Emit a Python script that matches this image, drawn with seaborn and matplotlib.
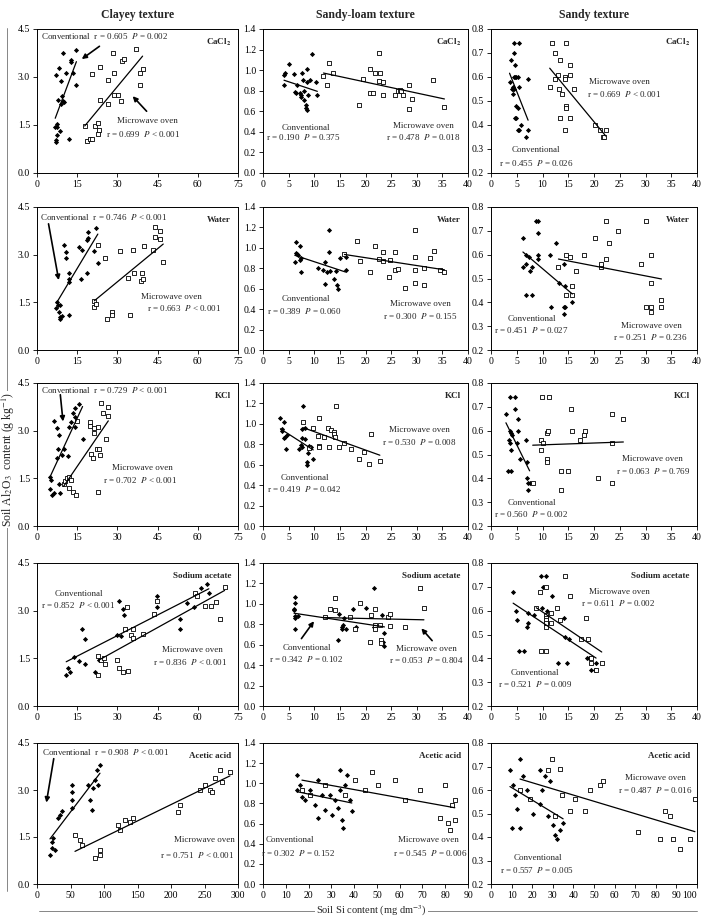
# coding: utf-8
"""
Soil Al2O3 vs Si content, 5 extractants x 3 textures
"""

import seaborn as sns
import matplotlib.pyplot as plt
import matplotlib.ticker as tck
from matplotlib.lines import Line2D

sns.set_theme(style='ticks')
plt.rcParams['font.family'] = ['Liberation Serif', 'DejaVu Serif']
plt.rcParams['mathtext.fontset'] = 'stix'

textures = ['Clayey texture', 'Sandy-loam texture', 'Sandy texture']
solutions = ['CaCl$_\\mathbf{2}$', 'Water', 'KCl', 'Sodium acetate', 'Acetic acid']

# ---- CaCl2 ----
clay_cacl2_cx = [7.1, 7.1, 6.8, 7.4, 7.6, 7.4, 8.4, 7.8, 7.2, 8.3, 9.0, 9.7, 9.4, 9.7, 9.9, 9.0,
                 10.8, 12.6, 12.6, 13.6, 14.5, 14.7, 12.1]
clay_cacl2_cy = [0.96, 1.04, 1.43, 1.43, 1.54, 1.20, 1.30, 2.29, 3.07, 3.28, 2.88, 3.75, 2.42, 2.26,
                 2.23, 2.16, 3.13, 3.54, 3.47, 3.13, 3.85, 2.76, 1.07]
clay_cacl2_mx = [17.8, 18.7, 19.8, 20.4, 20.4, 21.6, 22.6, 23.3, 22.7, 23.5, 23.5, 26.6, 26.6, 28.4,
                 28.7, 28.6, 30.3, 31.3, 31.6, 32.6, 36.8, 38.4, 38.4, 39.4]
clay_cacl2_my = [1.46, 0.99, 1.06, 1.06, 3.10, 1.46, 1.56, 1.35, 1.22, 3.31, 2.29, 2.90, 2.16, 3.75,
                 3.13, 2.43, 2.43, 2.24, 3.51, 3.56, 3.88, 3.13, 2.76, 3.25]

sl_cacl2_cx = [4.1, 4.2, 4.1, 5.1, 6.0, 6.2, 6.4, 6.7, 7.3, 7.5, 7.7, 7.5, 8.0, 8.0, 7.8, 8.3, 8.3,
               8.5, 8.5, 8.6, 8.8, 9.2, 9.6, 10.3, 10.6]
sl_cacl2_cy = [0.95, 0.97, 0.86, 1.06, 0.96, 0.79, 0.78, 0.86, 0.78, 0.76, 0.97, 0.74, 0.71, 0.80,
               0.90, 0.63, 0.66, 0.61, 1.01, 0.88, 0.76, 0.90, 1.16, 0.88, 0.76]
sl_cacl2_mx = [11.8, 12.5, 12.8, 13.7, 18.7, 19.5, 20.8, 20.8, 21.5, 21.8, 22.6, 22.6, 22.8, 23.5,
               23.4, 25.7, 26.3, 26.7, 26.9, 27.4, 28.5, 28.5, 29.1, 33.2, 35.4]
sl_cacl2_my = [0.94, 0.86, 1.07, 0.97, 0.66, 0.91, 1.01, 0.78, 0.78, 0.97, 1.17, 0.89, 0.97, 0.88,
               0.76, 0.76, 0.80, 0.81, 0.80, 0.76, 0.86, 0.62, 0.72, 0.90, 0.64]

sand_cacl2_cx = [4.4, 5.4, 4.4, 3.9, 4.6, 3.6, 4.4, 4.6, 4.9, 5.2, 4.2, 4.0, 4.3, 4.5, 4.3, 4.8, 5.2,
                 4.6, 4.8, 5.2, 5.5, 5.8, 5.5, 7.2, 6.8, 7.2]
sand_cacl2_cy = [0.74, 0.74, 0.70, 0.67, 0.65, 0.58, 0.60, 0.60, 0.60, 0.60, 0.56, 0.55, 0.55, 0.55,
                 0.53, 0.48, 0.47, 0.43, 0.43, 0.38, 0.38, 0.40, 0.56, 0.59, 0.35, 0.38]
sand_cacl2_mx = [11.8, 14.6, 11.4, 12.5, 13.4, 12.5, 13.0, 13.3, 13.7, 14.4, 14.4, 15.3, 15.4, 13.4,
                 15.4, 14.5, 14.5, 14.4, 16.2, 20.2, 21.2, 21.7, 22.0, 22.3]
sand_cacl2_my = [0.74, 0.74, 0.56, 0.70, 0.67, 0.59, 0.61, 0.55, 0.53, 0.60, 0.59, 0.61, 0.65, 0.43,
                 0.43, 0.48, 0.47, 0.38, 0.55, 0.40, 0.38, 0.35, 0.35, 0.38]

# ---- Water ----
clay_water_cx = [7.4, 7.7, 8.4, 7.2, 8.2, 8.4, 9.3, 8.7, 9.9, 10.8, 10.7, 11.8, 11.8, 12.1, 12.1,
                 15.5, 16.4, 16.9, 18.8, 18.9, 18.9, 18.8, 21.3, 22.1, 22.7]
clay_water_cy = [1.52, 1.41, 1.41, 1.31, 1.20, 0.99, 1.07, 1.05, 3.29, 3.09, 2.88, 2.41, 2.25, 2.14,
                 1.10, 3.24, 2.22, 3.14, 3.45, 3.52, 3.71, 2.41, 3.12, 3.84, 2.74]
clay_water_mx = [21.4, 21.4, 22.1, 22.7, 25.5, 26.0, 27.9, 27.9, 31.0, 34.7, 34.1, 35.9, 36.2, 39.0,
                 38.7, 39.4, 40.0, 43.1, 44.0, 44.0, 45.8, 45.8, 47.1]
clay_water_my = [1.55, 1.36, 1.44, 3.29, 2.91, 0.99, 1.20, 1.10, 3.11, 1.10, 2.28, 3.14, 2.43, 2.43,
                 2.18, 2.25, 3.26, 3.14, 3.87, 3.56, 3.73, 3.48, 2.77]

sl_water_cx = [6.2, 6.5, 6.4, 6.6, 6.8, 7.3, 7.3, 7.5, 7.5, 10.7, 11.7, 12.0, 12.0, 12.4, 12.9,
               12.9, 13.0, 13.8, 14.3, 14.5, 14.6, 15.0, 16.1, 16.1]
sl_water_cy = [0.86, 1.06, 0.95, 0.94, 0.93, 1.02, 0.88, 0.90, 0.76, 0.80, 0.78, 0.86, 0.65, 0.76,
               1.17, 0.96, 0.77, 0.70, 0.77, 0.64, 0.60, 0.90, 0.91, 0.78]
sl_water_mx = [15.9, 18.3, 18.9, 20.8, 21.8, 22.6, 23.5, 23.4, 24.5, 24.8, 25.7, 25.7, 26.3, 27.8,
               29.6, 29.6, 29.6, 29.6, 31.5, 31.5, 32.5, 33.4, 34.5, 35.4]
sl_water_my = [0.94, 1.07, 0.87, 0.76, 1.02, 0.89, 0.96, 0.87, 0.71, 0.88, 0.96, 0.78, 0.79, 0.61,
               1.17, 0.91, 0.78, 0.66, 0.64, 0.80, 0.90, 0.97, 0.78, 0.76]

sand_water_cx = [6.2, 6.3, 6.8, 6.8, 6.7, 7.4, 7.6, 7.9, 7.9, 8.8, 9.1, 9.2, 9.2, 9.2, 11.4, 11.6,
                 12.6, 13.2, 14.1, 14.1, 14.3, 14.1, 14.3, 15.8]
sand_water_cy = [0.67, 0.55, 0.60, 0.56, 0.43, 0.59, 0.53, 0.55, 0.43, 0.74, 0.74, 0.69, 0.60, 0.58,
                 0.60, 0.38, 0.65, 0.48, 0.56, 0.38, 0.38, 0.35, 0.47, 0.40]
sand_water_mx = [13.1, 14.6, 15.4, 14.6, 15.7, 15.7, 16.5, 18.1, 20.2, 21.3, 21.3, 22.3, 22.9, 22.3,
                 24.7, 29.1, 30.1, 30.1, 31.0, 31.0, 31.0, 31.0, 33.1, 33.1]
sand_water_my = [0.55, 0.60, 0.59, 0.43, 0.43, 0.47, 0.53, 0.60, 0.67, 0.55, 0.56, 0.74, 0.65, 0.58,
                 0.70, 0.56, 0.74, 0.38, 0.38, 0.36, 0.60, 0.48, 0.41, 0.38]

# ---- KCl ----
clay_kcl_cx = [5.0, 5.2, 4.7, 5.6, 6.3, 6.2, 7.4, 8.1, 7.7, 7.4, 8.1, 8.7, 9.3, 9.9, 11.8, 11.5,
               12.6, 13.4, 14.0, 14.0, 14.3, 15.5, 17.0]
clay_kcl_cy = [1.53, 1.46, 1.18, 0.97, 1.04, 3.29, 3.08, 2.87, 2.41, 2.13, 1.32, 1.04, 2.25, 2.41,
               3.11, 2.21, 3.26, 3.55, 3.71, 3.13, 3.42, 3.85, 2.73]
clay_kcl_mx = [9.9, 10.5, 11.2, 11.8, 11.8, 12.6, 13.4, 14.6, 14.9, 19.8, 19.8, 20.1, 20.8, 21.1,
               21.1, 22.3, 22.7, 23.2, 22.7, 23.8, 23.5, 24.8, 25.8, 26.6, 26.6]
clay_kcl_my = [1.32, 1.42, 1.50, 1.55, 1.21, 1.44, 1.07, 0.97, 3.29, 3.26, 3.15, 2.27, 2.15, 3.08,
               2.92, 2.42, 3.13, 2.42, 1.07, 3.87, 2.23, 3.57, 2.74, 3.76, 3.47]

sl_kcl_cx = [3.4, 3.8, 3.8, 4.1, 4.0, 4.3, 4.6, 4.4, 7.0, 7.4, 7.6, 7.7, 7.7, 7.9, 8.1, 8.1, 8.5,
             8.5, 8.7, 9.0, 9.3, 9.8]
sl_kcl_cy = [1.06, 0.95, 0.93, 1.02, 0.86, 0.87, 0.89, 0.75, 0.75, 0.79, 0.77, 0.86, 0.95, 1.17,
             0.96, 0.85, 0.63, 0.60, 0.71, 0.78, 0.77, 0.66]
sl_kcl_mx = [7.9, 9.0, 9.8, 10.9, 10.8, 10.9, 10.9, 11.9, 12.7, 12.9, 13.2, 13.9, 13.9, 14.0, 14.2,
             14.8, 15.8, 17.1, 18.7, 19.8, 20.6, 21.1, 22.8]
sl_kcl_my = [1.02, 0.76, 0.96, 1.06, 0.88, 0.78, 0.77, 0.87, 0.96, 0.77, 0.94, 0.92, 0.90, 0.87,
             1.17, 0.77, 0.81, 0.75, 0.66, 0.72, 0.61, 0.90, 0.64]

sand_kcl_cx = [2.9, 3.7, 4.7, 4.7, 3.4, 3.6, 3.7, 3.9, 4.1, 3.9, 3.3, 3.9, 5.2, 5.2, 5.0, 5.7, 6.8,
               7.0, 7.0, 7.2, 7.5, 7.2]
sand_kcl_cy = [0.67, 0.74, 0.74, 0.69, 0.56, 0.55, 0.60, 0.59, 0.58, 0.52, 0.43, 0.43, 0.65, 0.60,
               0.55, 0.48, 0.56, 0.47, 0.40, 0.38, 0.38, 0.35]
sand_kcl_mx = [8.1, 9.9, 11.2, 9.7, 10.0, 9.7, 10.8, 11.0, 10.8, 10.8, 13.5, 13.5, 15.0, 15.5, 15.7,
               17.3, 18.1, 18.3, 20.8, 23.4, 23.4, 23.5, 25.7]
sand_kcl_my = [0.38, 0.74, 0.74, 0.56, 0.55, 0.52, 0.59, 0.60, 0.48, 0.47, 0.43, 0.35, 0.43, 0.69,
               0.60, 0.56, 0.58, 0.60, 0.40, 0.67, 0.55, 0.38, 0.65]

# ---- Sodium acetate ----
clay_na_cx = [10.9, 11.5, 12.4, 13.9, 15.6, 16.7, 18.0, 18.0, 21.7, 23.2, 29.7, 30.6, 31.2, 32.2,
              32.6, 44.6, 44.6, 53.3, 53.3, 55.8, 58.5, 61.3, 63.4, 64.1]
clay_na_cy = [0.97, 1.21, 1.06, 1.55, 1.42, 2.41, 2.12, 1.32, 1.08, 1.44, 2.23, 3.30, 2.21, 3.06,
              2.86, 3.45, 3.10, 2.41, 2.73, 3.24, 3.10, 3.71, 3.85, 3.56]
clay_na_mx = [22.9, 22.9, 23.9, 25.0, 25.5, 29.7, 30.7, 32.0, 33.8, 33.5, 32.8, 34.9, 35.7, 36.0,
              39.7, 43.6, 44.9, 58.9, 59.7, 62.8, 65.1, 66.9, 68.2, 70.0]
clay_na_my = [1.57, 0.97, 1.44, 1.50, 1.32, 1.46, 1.21, 1.08, 1.10, 3.10, 2.41, 2.23, 2.41, 2.14,
              2.26, 2.89, 3.31, 3.56, 3.45, 3.14, 3.14, 3.27, 2.75, 3.74]

sl_na_cx = [6.2, 6.2, 6.05, 6.05, 6.2, 6.2, 6.8, 6.2, 14.6, 14.8, 15.4, 15.5, 15.7, 16.1, 15.8,
            17.6, 18.1, 20.0, 21.7, 21.7, 23.3, 23.7, 23.7, 23.4]
sl_na_cy = [1.07, 1.01, 0.95, 0.94, 0.86, 0.88, 0.88, 0.75, 0.65, 0.90, 0.77, 0.75, 0.79, 0.75,
            0.86, 0.95, 0.77, 0.96, 1.16, 0.77, 0.89, 0.71, 0.59, 0.63]
sl_na_mx = [12.0, 13.0, 14.0, 14.0, 16.9, 18.0, 18.9, 20.9, 21.0, 21.8, 21.8, 21.8, 22.8, 23.0,
            23.0, 24.4, 24.7, 24.7, 27.7, 30.6, 31.4]
sl_na_my = [0.87, 0.95, 1.06, 0.94, 0.87, 0.75, 1.01, 0.63, 0.89, 0.95, 0.79, 0.75, 0.79, 0.65,
            0.62, 0.87, 0.90, 0.78, 0.77, 1.16, 0.96]

sand_na_cx = [4.3, 4.8, 5.0, 5.4, 6.5, 7.2, 7.2, 7.0, 8.3, 9.7, 10.7, 10.1, 9.9, 10.8, 10.8, 11.8,
              13.1, 14.2, 14.4, 14.8, 15.2, 18.6, 19.1, 19.4, 20.4, 20.2]
sand_na_cy = [0.68, 0.60, 0.56, 0.43, 0.43, 0.59, 0.55, 0.53, 0.58, 0.745, 0.745, 0.70, 0.61, 0.60,
              0.55, 0.66, 0.38, 0.57, 0.49, 0.38, 0.48, 0.40, 0.40, 0.35, 0.38, 0.35]
sand_na_mx = [9.5, 8.8, 9.7, 10.7, 10.7, 10.7, 10.7, 10.7, 10.7, 10.7, 11.6, 11.6, 12.8, 13.4, 15.4,
              14.4, 18.5, 18.9, 17.4, 19.4, 19.4, 20.4, 21.5]
sand_na_my = [0.68, 0.61, 0.43, 0.43, 0.70, 0.58, 0.57, 0.56, 0.55, 0.53, 0.59, 0.55, 0.61, 0.56,
              0.66, 0.745, 0.57, 0.48, 0.48, 0.40, 0.38, 0.35, 0.38]

# ---- Acetic acid ----
clay_ac_cx = [19.4, 22.4, 22.4, 23.9, 26.9, 31.3, 34.3, 37.3, 52, 52, 52, 52, 79, 83.6, 86.6, 89.6,
              94, 91, 76, 82]
clay_ac_cy = [0.93, 1.15, 1.34, 1.47, 1.09, 2.11, 2.20, 2.33, 2.43, 2.68, 2.94, 3.16, 2.68, 3.07,
              3.32, 3.64, 3.80, 3.16, 3.16, 2.36]
clay_ac_mx = [56.7, 64, 67, 94, 94, 86.6, 121, 131, 139, 143, 124, 210, 213, 258, 261, 276, 288,
              273, 251, 266, 243]
clay_ac_my = [1.57, 1.40, 1.25, 1.09, 0.93, 0.83, 1.88, 2.04, 1.98, 2.11, 1.72, 2.30, 2.52, 3.00,
              2.94, 3.26, 3.58, 3.64, 3.16, 3.39, 3.00]

sl_ac_cx = [14.9, 14.9, 16.2, 17.1, 18.4, 20.6, 22.8, 24.1, 25.9, 27.2, 29.4, 30.3, 31.6, 32.9,
            33.8, 34.6, 35.1, 36.0, 36.8, 38.2, 39.0, 33.8, 24.1]
sl_ac_cy = [0.93, 1.08, 0.98, 0.86, 0.83, 0.93, 0.78, 1.03, 0.88, 0.73, 0.88, 0.69, 0.83, 0.75,
            0.93, 0.64, 0.56, 0.98, 1.08, 0.83, 0.72, 1.13, 0.66]
sl_ac_mx = [17.1, 20.6, 27.2, 36.0, 40.4, 44.7, 47.8, 50.4, 57.9, 62.3, 68.9, 77.6, 81.1, 82.0,
            82.9, 84.2, 84.2, 79.8]
sl_ac_my = [0.93, 0.88, 0.98, 0.88, 1.03, 0.93, 1.11, 0.98, 1.03, 0.83, 0.93, 0.66, 0.61, 0.54,
            0.78, 0.83, 0.64, 0.98]

sand_ac_cx = [9.2, 10.7, 11.7, 12.6, 10.2, 14.1, 14.1, 15.5, 17.5, 18.9, 20.4, 23.8, 24.8, 26.2,
              27.7, 30.1, 31.1, 32.0, 33.5, 35.0, 28.6, 23.8]
sand_ac_cy = [0.685, 0.62, 0.58, 0.52, 0.44, 0.44, 0.73, 0.66, 0.60, 0.56, 0.50, 0.54, 0.60, 0.66,
              0.49, 0.45, 0.41, 0.39, 0.43, 0.46, 0.64, 0.685]
sand_ac_mx = [14.1, 18.9, 27.7, 29.6, 33.5, 34.5, 40.8, 45.6, 48.0, 52.9, 54.4, 71.4, 82.0, 84.5,
              86.9, 88.3, 91.7, 96.6, 99.0, 38.3, 31.0]
sand_ac_my = [0.60, 0.56, 0.685, 0.73, 0.69, 0.58, 0.56, 0.51, 0.60, 0.62, 0.64, 0.42, 0.39, 0.51,
              0.49, 0.39, 0.35, 0.39, 0.56, 0.51, 0.49]

series = [
    [(clay_cacl2_cx, clay_cacl2_cy, clay_cacl2_mx, clay_cacl2_my),
     (sl_cacl2_cx, sl_cacl2_cy, sl_cacl2_mx, sl_cacl2_my),
     (sand_cacl2_cx, sand_cacl2_cy, sand_cacl2_mx, sand_cacl2_my)],
    [(clay_water_cx, clay_water_cy, clay_water_mx, clay_water_my),
     (sl_water_cx, sl_water_cy, sl_water_mx, sl_water_my),
     (sand_water_cx, sand_water_cy, sand_water_mx, sand_water_my)],
    [(clay_kcl_cx, clay_kcl_cy, clay_kcl_mx, clay_kcl_my),
     (sl_kcl_cx, sl_kcl_cy, sl_kcl_mx, sl_kcl_my),
     (sand_kcl_cx, sand_kcl_cy, sand_kcl_mx, sand_kcl_my)],
    [(clay_na_cx, clay_na_cy, clay_na_mx, clay_na_my),
     (sl_na_cx, sl_na_cy, sl_na_mx, sl_na_my),
     (sand_na_cx, sand_na_cy, sand_na_mx, sand_na_my)],
    [(clay_ac_cx, clay_ac_cy, clay_ac_mx, clay_ac_my),
     (sl_ac_cx, sl_ac_cy, sl_ac_mx, sl_ac_my),
     (sand_ac_cx, sand_ac_cy, sand_ac_mx, sand_ac_my)],
]

# texte des stats: (ligne, colonne) -> [(texte, x, y, ha)]
notes = {
    (0, 0): [('Conventional  r = 0.605  $P$ = 0.002', 1.5, 4.28, 'left'),
             ('Microwave oven', 41.1, 1.61, 'center'), ('r = 0.699  $P$ < 0.001', 39.7, 1.23, 'center')],
    (0, 1): [('Conventional', 8.3, 0.44, 'center'), ('r = 0.190  $P$ = 0.375', 7.9, 0.35, 'center'),
             ('Microwave oven', 31.2, 0.46, 'center'), ('r = 0.478  $P$ = 0.018', 31.2, 0.35, 'center')],
    (0, 2): [('Microwave oven', 25.0, 0.58, 'center'), ('r = 0.669  $P$ < 0.001', 25.8, 0.53, 'center'),
             ('Conventional', 8.8, 0.294, 'center'), ('r = 0.455  $P$ = 0.026', 8.8, 0.243, 'center')],
    (1, 0): [('Conventional  r = 0.746  $P$ < 0.001', 1.2, 4.2, 'left'),
             ('Microwave oven', 50.3, 1.67, 'center'), ('r = 0.663  $P$ < 0.001', 54.8, 1.31, 'center')],
    (1, 1): [('Conventional', 8.3, 0.50, 'center'), ('r = 0.389  $P$ = 0.060', 8.1, 0.38, 'center'),
             ('Microwave oven', 30.8, 0.45, 'center'), ('r = 0.300  $P$ = 0.155', 30.6, 0.33, 'center')],
    (1, 2): [('Conventional', 8.0, 0.33, 'center'), ('r = 0.451  $P$ = 0.027', 7.8, 0.283, 'center'),
             ('Microwave oven', 31.2, 0.30, 'center'), ('r = 0.251  $P$ = 0.236', 30.9, 0.256, 'center')],
    (2, 0): [('Conventional  r = 0.729  $P$ < 0.001', 1.5, 4.29, 'left'),
             ('Microwave oven', 39.4, 1.81, 'center'), ('r = 0.702  $P$ < 0.001', 38.5, 1.46, 'center')],
    (2, 1): [('Microwave oven', 30.6, 0.94, 'center'), ('r = 0.530  $P$ = 0.008', 30.5, 0.82, 'center'),
             ('Conventional', 8.1, 0.47, 'center'), ('r = 0.419  $P$ = 0.042', 8.1, 0.36, 'center')],
    (2, 2): [('Microwave oven', 31.4, 0.48, 'center'), ('r = 0.063  $P$ = 0.769', 31.4, 0.43, 'center'),
             ('Conventional', 8.0, 0.297, 'center'), ('r = 0.560  $P$ = 0.002', 7.8, 0.249, 'center')],
    (3, 0): [('Conventional', 15.6, 3.54, 'center'), ('r = 0.852  $P$ < 0.001', 15.5, 3.17, 'center'),
             ('Microwave oven', 58.0, 1.76, 'center'), ('r = 0.836  $P$ < 0.001', 57.1, 1.39, 'center')],
    (3, 1): [('Conventional', 8.5, 0.57, 'center'), ('r = 0.342  $P$ = 0.102', 8.4, 0.46, 'center'),
             ('Microwave oven', 31.9, 0.56, 'center'), ('r = 0.053  $P$ = 0.804', 31.9, 0.45, 'center')],
    (3, 2): [('Microwave oven', 24.9, 0.679, 'center'), ('r = 0.611  $P$ = 0.002', 24.6, 0.634, 'center'),
             ('Conventional', 8.6, 0.338, 'center'), ('r = 0.521  $P$ = 0.009', 8.5, 0.294, 'center')],
    (4, 0): [('Conventional  r = 0.908  $P$ < 0.001', 7.5, 4.2, 'left'),
             ('Microwave oven', 250, 1.40, 'center'), ('r = 0.751  $P$ < 0.001', 239, 0.93, 'center')],
    (4, 1): [('Conventional', 11.8, 0.44, 'center'), ('r = 0.302  $P$ = 0.152', 15.4, 0.31, 'center'),
             ('Microwave oven', 72.4, 0.44, 'center'), ('r = 0.545  $P$ = 0.006', 73.2, 0.31, 'center')],
    (4, 2): [('Microwave oven', 79.6, 0.651, 'center'), ('r = 0.487  $P$ = 0.016', 79.6, 0.60, 'center'),
             ('Conventional', 22.8, 0.31, 'center'), ('r = 0.557  $P$ = 0.005', 22.3, 0.26, 'center')],
}

# fleches: (ligne, colonne) -> [(x_depart, y_depart, x_pointe, y_pointe)]
arrows = {
    (0, 0): [(23.3, 3.96, 16.7, 3.56), (40.9, 1.93, 35.7, 2.40)],
    (1, 0): [(4.3, 3.97, 8.1, 2.20)],
    (2, 0): [(8.7, 4.13, 9.7, 3.29)],
    (3, 1): [(7.5, 0.66, 9.95, 0.83), (33.0, 0.64, 30.9, 0.76)],
    (4, 0): [(25, 4.0, 14, 2.6)],
}

col_left = [37, 263, 491]
col_width = [201, 205, 206]
row_top = [29, 207, 383, 563, 743]
row_bottom = [173, 350, 526, 706, 884]
W, H = 701, 919

fig = plt.figure(figsize=(W / 100, H / 100), dpi=100)

for row in range(5):
    for col in range(3):
        ax = fig.add_axes([col_left[col] / W, 1 - row_bottom[row] / H,
                           col_width[col] / W, (row_bottom[row] - row_top[row]) / H])
        cx, cy, mx, my = series[row][col]
        sns.scatterplot(x=cx, y=cy, marker='D', s=7, color='black', linewidth=0, ax=ax)
        sns.scatterplot(x=mx, y=my, marker='s', s=9, color='white', edgecolor='black',
                        linewidth=0.6, ax=ax)
        sns.regplot(x=cx, y=cy, scatter=False, ci=None, color='black',
                    line_kws={'lw': 0.9}, ax=ax)
        sns.regplot(x=mx, y=my, scatter=False, ci=None, color='black',
                    line_kws={'lw': 0.9}, ax=ax)

        if col == 0:
            ax.set_ylim(0, 4.5)
            ax.set_yticks([0, 1.5, 3.0, 4.5])
            xmax, step = (300, 50) if row == 4 else (75, 15)
        elif col == 1:
            ax.set_ylim(0, 1.4)
            ax.set_yticks([0, 0.2, 0.4, 0.6, 0.8, 1.0, 1.2, 1.4])
            xmax, step = (90, 10) if row == 4 else (40, 5)
        else:
            ax.set_ylim(0.2, 0.8)
            ax.set_yticks([0.2, 0.3, 0.4, 0.5, 0.6, 0.7, 0.8])
            xmax, step = (100, 10) if row == 4 else (40, 5)
        ax.set_xlim(0, xmax)
        ax.set_xticks(list(range(0, xmax + 1, step)))
        ax.yaxis.set_major_formatter(tck.FormatStrFormatter('%.1f'))
        ax.tick_params(direction='out', length=3, width=0.6, pad=2, labelsize=7,
                       colors='black')
        for sp in ax.spines.values():
            sp.set_linewidth(0.7)
            sp.set_color('black')
        ax.set_xlabel('')
        ax.set_ylabel('')
        if row == 4 and col == 2:
            # le "100" touche le bord droit
            ax.get_xticklabels()[-1].set_horizontalalignment('right')

        ax.text(0.965, 0.91, solutions[row], transform=ax.transAxes, ha='right', va='center',
                fontsize=6.5, fontweight='bold')
        for txt, x, y, ha in notes[(row, col)]:
            ax.text(x, y, txt, ha=ha, va='center', fontsize=6.5)
        for x0, y0, x1, y1 in arrows.get((row, col), []):
            ax.annotate('', xy=(x1, y1), xytext=(x0, y0),
                        arrowprops=dict(arrowstyle='-|>', color='black', lw=1.2,
                                        mutation_scale=7, shrinkA=0, shrinkB=0))

        if row == 0:
            ax.set_title(textures[col], fontsize=8.5, fontweight='bold', pad=8)

# axes communs
fig.add_artist(Line2D([0.0105, 0.0105], [0.03, 0.97], lw=0.6, color='0.45'))
fig.text(0.0115, 0.5, 'Soil Al$_2$O$_3$  content (g kg$^{-1}$)', rotation=90, ha='center',
         va='center', fontsize=8.5, bbox=dict(facecolor='white', edgecolor='none', pad=0.3))
fig.add_artist(Line2D([0.055, 0.995], [0.009, 0.009], lw=0.6, color='0.45'))
fig.text(0.53, 0.009, 'Soil Si content (mg dm$^{-3}$)', ha='center', va='center', fontsize=7.5,
         bbox=dict(facecolor='white', edgecolor='none', pad=1))

plt.savefig('out.png', dpi=100)
